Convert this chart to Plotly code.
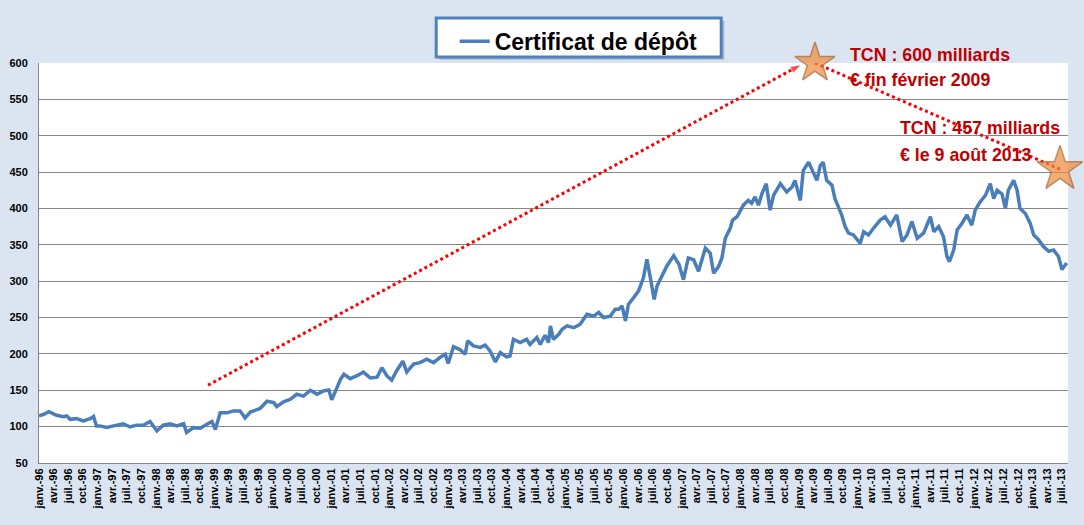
import pandas as pd
import plotly.graph_objects as go

# --- Données (mois écoulés depuis janv. 1996, encours en Md€) ---
mois = [0, 1, 2, 3.6, 5, 5.7, 6.4, 7.7, 9.1, 10.5, 11.2, 11.8, 12.5, 13.9, 15.3, 17.3, 18.7, 20,
        21.4, 22.8, 24.2, 25.5, 26.9, 28.3, 29.7, 30.3, 31.7, 33.1, 34.4, 35.5, 36.2, 37.2, 38.6,
        39.9, 41.3, 42.3, 43.4, 45.4, 46.8, 48.2, 48.8, 50.2, 51.6, 52.9, 54.3, 55.7, 57.1, 58.4,
        59.5, 60.1, 61.2, 61.9, 62.6, 63.9, 65.3, 66.6, 68, 69.4, 70.4, 71.4, 72.4, 73.4, 74.7,
        75.5, 76.9, 78.2, 79.6, 81, 82.3, 83.4, 84, 85.1, 86.4, 87.5, 88, 89.2, 90.6, 91.6, 92.6,
        93.7, 94.7, 96, 96.7, 97.4, 98.8, 100.1, 100.8, 102.2, 102.9, 103.9, 104.6, 105, 105.6,
        106.7, 107.4, 108.4, 109.8, 111.1, 112.5, 113.9, 114.9, 115.9, 117.3, 118.3, 119, 119.7,
        120.4, 121, 122.1, 123.1, 124.1, 124.8, 125.5, 126.3, 126.9, 127.9, 128.9, 130.3, 131.4,
        132.3, 133.3, 134.4, 135.4, 136.8, 137.8, 138.5, 139.5, 140.2, 140.9, 141.9, 142.4, 143.3,
        143.9, 144.6, 145.6, 146.3, 147, 147.7, 148.4, 149.3, 150.1, 150.8, 152.2, 153.5, 154.6,
        155.2, 156.3, 156.9, 158, 158.6, 159.7, 160.4, 161, 161.7, 162.8, 163.4, 164.1, 164.8,
        165.5, 166.2, 167.2, 168.6, 169.3, 170.3, 171.3, 172.7, 173.7, 174.8, 176.1, 177.2, 178.2,
        179.2, 180.3, 181.6, 183, 183.7, 184.7, 185.7, 186.4, 186.9, 187.8, 188.5, 189.5, 190.5,
        191.5, 192.2, 193.2, 194.3, 195.3, 196, 196.7, 197.7, 198.4, 199, 200.1, 200.8, 201.4,
        202.5, 203.5, 204.2, 205.2, 206.2, 207.3, 208.3, 209.3, 210, 211]
encours = [115, 117, 120.5, 115.6, 113.8, 114.7, 110, 111, 108, 111, 114, 101, 101, 99, 101, 104,
           99.5, 102, 102, 107, 94, 102, 104, 101, 104, 92, 98.6, 97.7, 103, 107, 96, 119, 119,
           121.6, 121.6, 112, 120, 125, 135, 133, 127.5, 134, 137.6, 144.5, 142, 150, 144.5, 149,
           150.5, 137, 154, 165, 172, 166, 170, 175, 167, 168, 181, 170, 164, 176.6, 190, 175, 186,
           188, 192.7, 188, 195, 199.5, 186.7, 210, 206, 199.5, 218, 211, 209, 212, 204, 189, 202,
           196, 197, 220, 215.6, 220, 213, 222.5, 213, 225.7, 215.6, 238.5, 220, 227, 234, 238.5,
           236, 240.8, 254.6, 252, 257, 250, 252, 261.5, 261.5, 266, 245.4, 268, 277.5, 286.7, 305,
           330, 305, 275, 293.6, 307, 321, 335, 323, 302, 332, 329.5, 313.6, 345.5, 338.6, 311, 320,
           332, 359, 372.7, 384, 388.6, 395.5, 404.5, 411, 407, 416, 404.5, 420, 434, 397.7, 418,
           434, 422.7, 429.5, 438.6, 411, 452, 463.6, 454.5, 438.6, 459, 463.6, 438.6, 432, 413.6,
           402, 391, 375, 366, 363.6, 352, 368, 363.6, 372.7, 384, 388.6, 377, 391, 354.5, 363.6,
           382, 359, 366, 388.6, 368, 375, 361, 334, 327, 343, 370.5, 379.5, 391, 377, 397.7, 409,
           418, 434, 413.6, 425, 420, 400, 425, 438.6, 425, 400, 393, 379.5, 363.6, 357, 347.7, 341,
           343, 334, 316, 325]

# Annotations (mois écoulés, valeur)
fleche_mois = [34.7, 156.3]
fleche_val = [157, 597]
etoiles_mois = [159.3, 209.6]
etoiles_val = [600, 454]

mois_abbr = ["janv.", "avr.", "juil.", "oct."]
annees = list(range(1996, 2014))

DEBUT = pd.Timestamp("1996-01-01")


def to_date(m):
    return DEBUT + pd.Timedelta(days=float(m) * 30.4375)


dates = [to_date(m) for m in mois]

tickvals, ticktext = [], []
for a in annees:
    for i, ab in enumerate(mois_abbr):
        d = pd.Timestamp(year=a, month=1 + 3 * i, day=1)
        if d > pd.Timestamp("2013-07-01"):
            continue
        tickvals.append(d)
        ticktext.append(f"{ab}-{str(a)[2:]}")

fig = go.Figure()

fig.add_trace(go.Scatter(
    x=dates, y=encours, mode="lines", name="<b>Certificat de dépôt</b>",
    line=dict(color="#4a7ebb", width=3.5),
))

# flèche pointillée rouge
fig.add_trace(go.Scatter(
    x=[to_date(m) for m in fleche_mois], y=fleche_val, mode="lines+markers",
    line=dict(color="#ff0000", width=3, dash="3px,3px"),
    marker=dict(symbol=["circle", "arrow"], size=[0, 10], angleref="previous",
                color="#ff0000", line=dict(width=0)),
    showlegend=False, hoverinfo="skip",
))
# pointillé entre les étoiles
fig.add_trace(go.Scatter(
    x=[to_date(m) for m in etoiles_mois], y=etoiles_val, mode="lines",
    line=dict(color="#ff0000", width=3, dash="3px,3px"),
    showlegend=False, hoverinfo="skip",
))
fig.add_trace(go.Scatter(
    x=[to_date(m) for m in etoiles_mois], y=etoiles_val, mode="markers",
    marker=dict(symbol="star", size=[30, 34], color="#ee8a3a",
                line=dict(color="#a65c22", width=1.5)),
    showlegend=False, hoverinfo="skip", cliponaxis=False,
))

txt_font = dict(family="Liberation Sans, Arial", size=17.8, color="#c00000")
for txt, xp, yp in [("<b>TCN : 600 milliards</b>", 0.786, 1.02),
                    ("<b>€ fin février 2009</b>", 0.786, 0.9575),
                    ("<b>TCN : 457 milliards</b>", 0.835, 0.8375),
                    ("<b>€ le 9 août 2013</b>", 0.835, 0.77)]:
    fig.add_annotation(text=txt, xref="paper", yref="paper", x=xp, y=yp,
                       xanchor="left", yanchor="middle", showarrow=False, font=txt_font)

# cadre de légende (ombre + boîte)
fig.add_shape(type="rect", xref="paper", yref="paper", x0=0.389, x1=0.666, y0=1.008, y1=1.105,
              fillcolor="rgba(120,130,150,0.45)", line=dict(width=0), layer="above")
fig.add_shape(type="rect", xref="paper", yref="paper", x0=0.386, x1=0.663, y0=1.015, y1=1.1125,
              fillcolor="#ffffff", line=dict(color="#4f81bd", width=3), layer="above")

fig.update_layout(
    width=1084, height=525,
    margin=dict(l=39, r=16, t=63, b=62),
    paper_bgcolor="#dbe5f1",
    plot_bgcolor="#ffffff",
    showlegend=True,
    legend=dict(
        x=0.404, y=1.108, xanchor="left", yanchor="top",
        bgcolor="rgba(0,0,0,0)", borderwidth=0,
        font=dict(family="Liberation Sans, Arial", size=23, color="#000000"),
        itemwidth=30, tracegroupgap=0,
    ),
    xaxis=dict(
        type="date", automargin=False,
        range=[DEBUT, pd.Timestamp("2013-08-09")],
        tickmode="array", tickvals=tickvals, ticktext=ticktext,
        tickangle=-90,
        tickfont=dict(family="Liberation Sans, Arial", size=11, color="#000000", weight="bold"),
        showgrid=False, showline=True, linecolor="#868686", linewidth=1,
        ticks="", zeroline=False,
    ),
    yaxis=dict(
        range=[50, 600], dtick=50, tick0=50, automargin=False,
        tickfont=dict(family="Liberation Sans, Arial", size=11, color="#000000", weight="bold"),
        showgrid=True, gridcolor="#868686", gridwidth=1,
        showline=True, linecolor="#868686", linewidth=1,
        ticks="", zeroline=False, ticklabelstandoff=8,
    ),
)

fig.write_html("out.html", config={"displayModeBar": False},
               post_script="document.body.style.margin='0';document.body.style.overflow='hidden';")
